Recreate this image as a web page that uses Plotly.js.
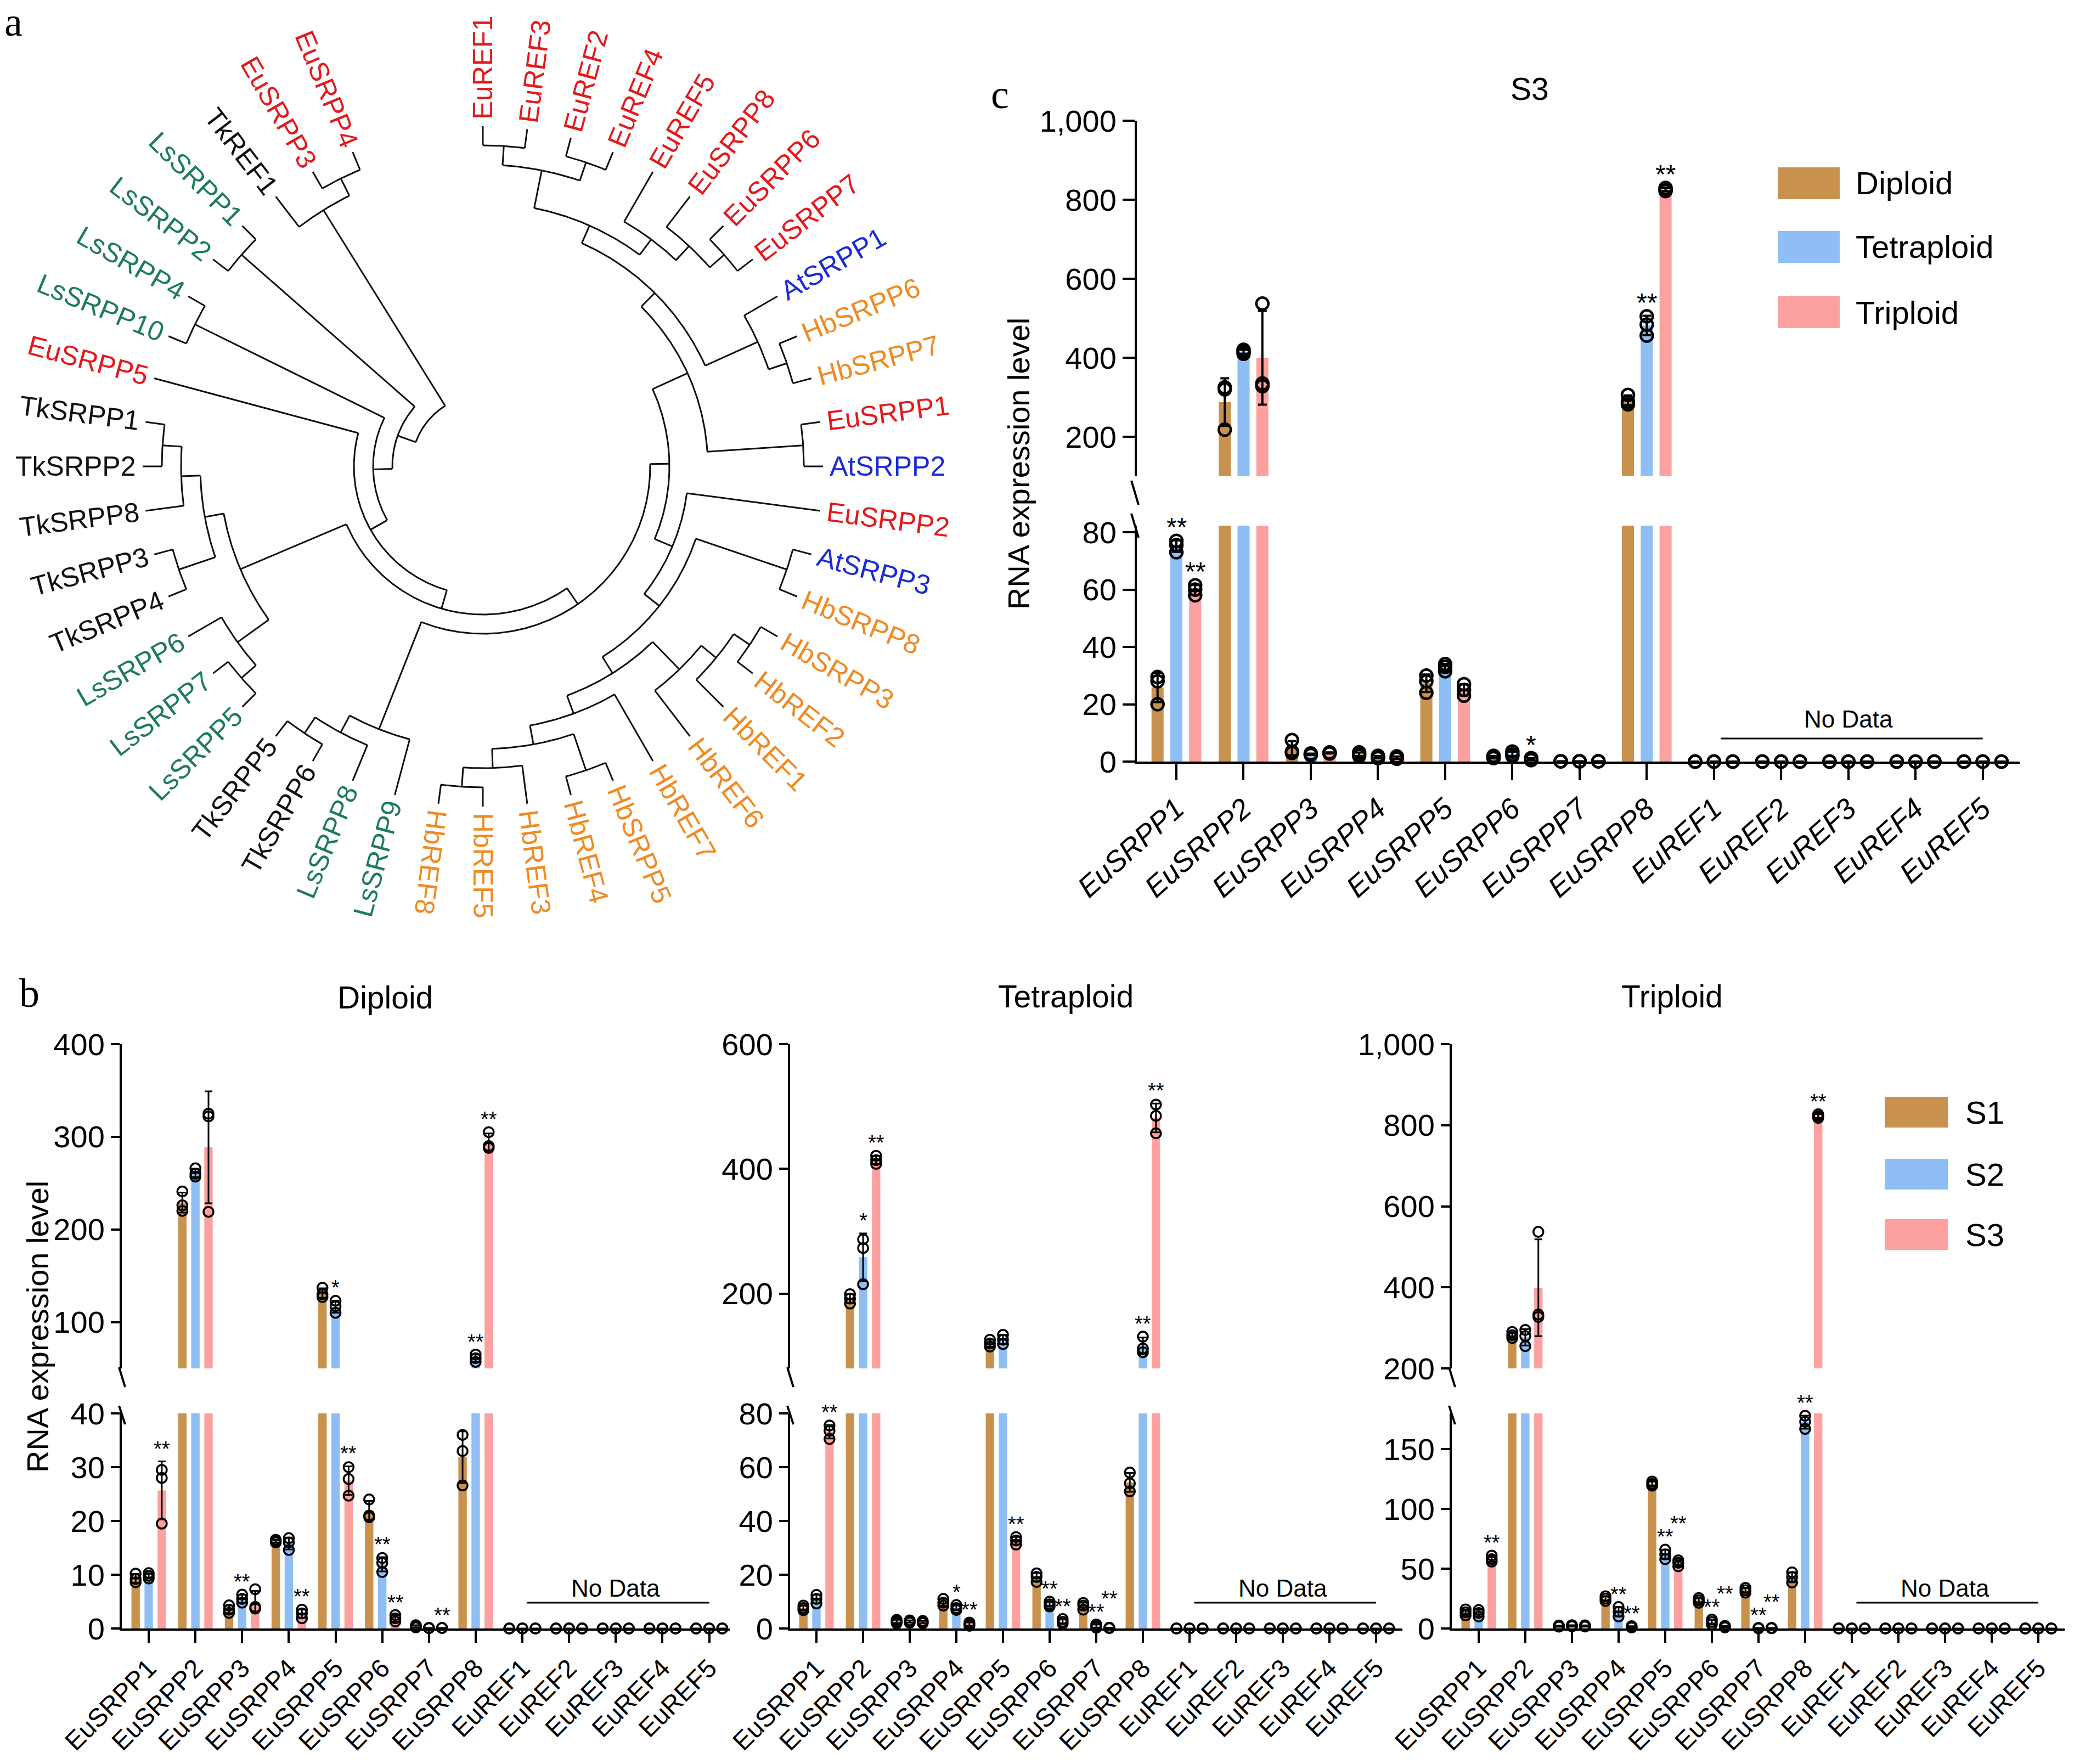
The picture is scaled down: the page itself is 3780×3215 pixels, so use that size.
<!DOCTYPE html>
<html><head><meta charset="utf-8">
<script src="https://cdn.plot.ly/plotly-3.0.1.min.js"></script>
<style>html,body{margin:0;padding:0;background:#fff}#plot{width:3780px;height:3215px}</style>
</head><body><div id="plot"></div>
<script>
const W = 3780, H = 3215;
const FONT = 'Liberation Sans, Arial, sans-serif';
const SERIF = 'Liberation Serif, Times New Roman, serif';

// ---------------- DATA ----------------
const categories = ['EuSRPP1','EuSRPP2','EuSRPP3','EuSRPP4','EuSRPP5','EuSRPP6','EuSRPP7','EuSRPP8','EuREF1','EuREF2','EuREF3','EuREF4','EuREF5'];
const seriesB = ['S1','S2','S3'];
const seriesC = ['Diploid','Tetraploid','Triploid'];

// panel b, Diploid (three replicates per bar)
const dipS1 = [[10.2,9.2,8.6],[241,226,220],[4.3,3.5,2.9],[16.5,16.2,16.0],[137,130,127],[24,21,20.7],[0.6,0.4,0.2],[36,33,26.6],[0,0,0],[0,0,0],[0,0,0],[0,0,0],[0,0,0]];
const dipS2 = [[10.3,9.8,9.3],[266,260,257],[6.3,5.5,4.8],[16.8,16,14.6],[123,117,110],[13.1,12.2,10.5],[0.1,0.1,0.05],[65,61,57],[0,0,0],[0,0,0],[0,0,0],[0,0,0],[0,0,0]];
const dipS3 = [[29.5,28,19.5],[325,322,219],[7.3,4.0,3.7],[3.5,2.8,1.9],[30,27.8,24.7],[2.5,1.9,1.3],[0.1,0.1,0.1],[305,290,288],[0,0,0],[0,0,0],[0,0,0],[0,0,0],[0,0,0]];
const dipStarS1 = ['','','','','','','','','','','','',''];
const dipStarS2 = ['','','**','','*','**','','**','','','','',''];
const dipStarS3 = ['**','','','**','**','**','**','**','','','','',''];

// panel b, Tetraploid
const tetS1 = [[8.5,7.6,6.8],[199,192,184],[3.2,2.6,2.0],[11,9.6,8.5],[126,120,115],[20.5,19.2,17.3],[9.5,8.5,7.0],[58,54,51],[0,0,0],[0,0,0],[0,0,0],[0,0,0],[0,0,0]];
const tetS2 = [[12.5,11,9.3],[287,273,215],[3.0,2.6,2.2],[8.7,7.6,6.9],[134,126,119],[10,9,8.2],[1.5,0.8,0.3],[131,112,106],[0,0,0],[0,0,0],[0,0,0],[0,0,0],[0,0,0]];
const tetS3 = [[75.5,73.5,70.5],[421,414,408],[2.8,2.4,2.0],[2.2,1.5,1.0],[34,32.7,31.2],[3.5,2.5,1.8],[0.3,0.2,0.1],[503,485,457],[0,0,0],[0,0,0],[0,0,0],[0,0,0],[0,0,0]];
const tetStarS1 = ['','','','','','','','','','','','',''];
const tetStarS2 = ['','*','','*','','**','**','**','','','','',''];
const tetStarS3 = ['**','**','','**','**','**','**','**','','','','',''];

// panel b, Triploid
const triS1 = [[16,13.5,11],[290,282,275],[2.5,2,1.5],[27,25,23],[123,121,119.5],[25.5,23.5,21.5],[34,32,30],[47,43,38.5],[0,0,0],[0,0,0],[0,0,0],[0,0,0],[0,0,0]];
const triS2 = [[15.5,13,10],[295,280,255],[2.8,2.2,1.8],[18,14,10],[66,62,58],[7.5,5.5,3.5],[0.5,0.3,0.1],[178,173,167],[0,0,0],[0,0,0],[0,0,0],[0,0,0],[0,0,0]];
const triS3 = [[61,58,56],[537,333,327],[2.6,2.1,1.6],[2,1.2,0.8],[57,55,52],[2.2,1.4,0.9],[0.5,0.3,0.2],[827,822,818],[0,0,0],[0,0,0],[0,0,0],[0,0,0],[0,0,0]];
const triStarS1 = ['','','','','','','','','','','','',''];
const triStarS2 = ['','','','**','**','**','**','**','','','','',''];
const triStarS3 = ['**','','','**','**','**','**','**','','','','',''];

// panel c, S3
const cDip = [[29.5,28,20],[325,320,218],[7.5,3.5,3.0],[3.2,2.4,2.0],[30,28,24],[2.0,1.5,1.2],[0.1,0.1,0.1],[306,289,282],[0,0,0],[0,0,0],[0,0,0],[0,0,0],[0,0,0]];
const cTet = [[77,75.5,73],[420,415,410],[2.8,2.5,2.3],[2.0,1.5,1.2],[34,33,31.5],[3.5,2.5,2.0],[0.1,0.1,0.1],[505,484,456],[0,0,0],[0,0,0],[0,0,0],[0,0,0],[0,0,0]];
const cTri = [[61.5,60,58],[537,335,328],[3.2,2.8,3.0],[1.8,1.2,1.0],[27,25,23],[1.2,0.8,0.5],[0.1,0.1,0.1],[830,825,822],[0,0,0],[0,0,0],[0,0,0],[0,0,0],[0,0,0]];
const cStarDip = ['','','','','','','','','','','','',''];
const cStarTet = ['**','','','','','','','**','','','','',''];
const cStarTri = ['**','','','','','*','','**','','','','',''];

// panel a, tree topology (Newick pieces)
const cladeEu = "(((EuREF1,EuREF3),(EuREF2,EuREF4)),(EuREF5,(EuSRPP8,(EuSRPP6,EuSRPP7))))";
const cladeAtHb = "(AtSRPP1,(HbSRPP6,HbSRPP7))";
const cladeHb = "((((HbSRPP3,HbREF2),HbREF1),HbREF6),(HbREF7,((HbSRPP5,HbREF4),(HbREF3,(HbREF5,HbREF8)))))";
const cladeMid = "(EuSRPP2,((AtSRPP3,HbSRPP8)," + cladeHb + "))";
const cladeRight = "(((" + cladeEu + "," + cladeAtHb + "),(EuSRPP1,AtSRPP2))," + cladeMid + ")";
const cladeB = "(LsSRPP9,(LsSRPP8,(TkSRPP6,TkSRPP5)))";
const cladeT = "(((LsSRPP5,LsSRPP7),LsSRPP6),((TkSRPP4,TkSRPP3),(TkSRPP8,(TkSRPP2,TkSRPP1))))";
const nodeQ = "(" + cladeRight + "," + cladeB + ")";
const nodeP = "(" + nodeQ + "," + cladeT + ")";
const nodeN = "(" + nodeP + ",EuSRPP5)";
const nodeN2 = "(" + nodeN + ",(LsSRPP10,LsSRPP4))";
const nodeN3 = "(" + nodeN2 + ",(LsSRPP2,LsSRPP1))";
const treeNewick = "(" + nodeN3 + ",(TkREF1,(EuSRPP3,EuSRPP4)))";
const speciesColors = {Eu:'#E3191C', Ls:'#1E7B5C', Tk:'#111111', At:'#1A2BD6', Hb:'#EF8A24'};

// ---------------- HELPERS ----------------
const X = p => p / W;
const Y = p => 1 - p / H;
const axName = id => id[0] + 'axis' + id.slice(1);
const mean = a => a.reduce((s, v) => s + v, 0) / a.length;
const sd = a => { const m = mean(a); return Math.sqrt(a.reduce((s, v) => s + (v - m) * (v - m), 0) / (a.length - 1)); };

const barColors = ['#C8924E', '#8EBEF4', '#FCA0A0'];
const offsets = [-0.28, 0, 0.28];
const barWidth = 0.18;

const data = [], annotations = [], shapes = [];
const layout = {
  width: W, height: H, margin: {l: 0, r: 0, t: 0, b: 0},
  paper_bgcolor: '#fff', plot_bgcolor: 'rgba(0,0,0,0)', showlegend: false,
  barmode: 'overlay', font: {family: FONT, color: '#000'},
  annotations: annotations, shapes: shapes
};

function addChart(c) {
  const [xa, yl, yu] = c.ax;
  layout[axName(xa)] = {
    domain: [X(c.xpx[0]), X(c.xpx[1])], range: c.xr, anchor: yl,
    tickmode: 'array', tickvals: categories.map((_, i) => i),
    ticktext: categories.map(t => c.italic ? '<i>' + t + '</i>' : t),
    tickangle: c.tickangle, ticks: 'outside', ticklen: c.xticklen, tickwidth: 4, tickcolor: '#000',
    showline: true, linewidth: 4, linecolor: '#000', showgrid: false, zeroline: false,
    tickfont: {family: FONT, size: c.xfont, color: '#000'}, fixedrange: true
  };
  const yBase = {
    anchor: xa, ticks: 'outside', ticklen: c.yticklen, tickwidth: 4, tickcolor: '#000',
    showline: true, linewidth: 4, linecolor: '#000', showgrid: false, zeroline: false,
    tickfont: {family: FONT, size: c.yfont, color: '#000'}, fixedrange: true,
    separatethousands: true, tickmode: 'array'
  };
  layout[axName(yl)] = Object.assign({}, yBase, {domain: [Y(c.lpx[1]), Y(c.lpx[0])], range: c.lr, tickvals: c.ltick});
  layout[axName(yu)] = Object.assign({}, yBase, {domain: [Y(c.upx[1]), Y(c.upx[0])], range: c.ur, tickvals: c.utick});

  // pixel position of a value (for star stacking)
  const toPx = v => v > c.lr[1]
    ? c.upx[1] - (v - c.ur[0]) / (c.ur[1] - c.ur[0]) * (c.upx[1] - c.upx[0])
    : c.lpx[1] - (v - c.lr[0]) / (c.lr[1] - c.lr[0]) * (c.lpx[1] - c.lpx[0]);
  const lastStar = {};

  c.series.forEach((ser, s) => {
    const xs = categories.map((_, i) => i + offsets[s]);
    const m = ser.map(mean);
    const e = ser.map(a => { const v = sd(a); return v > 0 ? v : null; });
    [yl, yu].forEach(ya => data.push({
      type: 'bar', x: xs, y: m, width: barWidth, xaxis: xa, yaxis: ya,
      marker: {color: barColors[s], line: {width: 0}},
      error_y: {type: 'data', array: e, symmetric: true, visible: true, color: '#000', thickness: c.ebThick, width: c.ebWidth},
      hoverinfo: 'skip'
    }));
    const lo = {x: [], y: []}, up = {x: [], y: []};
    ser.forEach((reps, i) => reps.forEach(v => {
      if (v <= c.lr[1]) { lo.x.push(xs[i]); lo.y.push(v); }
      if (v >= c.ur[0]) { up.x.push(xs[i]); up.y.push(v); }
    }));
    [[lo, yl], [up, yu]].forEach(([p, ya]) => data.push({
      type: 'scatter', mode: 'markers', x: p.x, y: p.y, xaxis: xa, yaxis: ya, cliponaxis: false,
      marker: {symbol: 'circle-open', size: c.ms, color: '#000', line: {width: c.mlw}}, hoverinfo: 'skip'
    }));
    c.stars[s].forEach((t, i) => {
      if (!t) return;
      const base = Math.max(Math.max(...ser[i]), m[i] + (e[i] || 0));
      const ya = base > c.lr[1] ? yu : yl;
      let shift = c.starShift;
      const py = toPx(base) - shift;
      if (lastStar[i] !== undefined && Math.abs(lastStar[i] - py) < c.starGap) {
        shift += c.starGap - (lastStar[i] - py);
      }
      lastStar[i] = toPx(base) - shift;
      annotations.push({xref: xa, yref: ya, x: xs[i], y: base, text: t, showarrow: false,
        yanchor: 'bottom', yshift: shift, font: {family: FONT, size: c.starSize, color: '#000'}});
    });
  });

  // axis break marks
  const ax0 = c.xpx[0];
  shapes.push({type: 'line', xref: 'paper', yref: 'paper', x0: X(ax0 - c.brk[0]), y0: Y(c.upx[1] + c.brk[1]), x1: X(ax0 + c.brk[2]), y1: Y(c.upx[1] + c.brk[3]), line: {color: '#000', width: 4}});
  shapes.push({type: 'line', xref: 'paper', yref: 'paper', x0: X(ax0 - c.brk[0]), y0: Y(c.lpx[0] + c.brk[4]), x1: X(ax0 + c.brk[2]), y1: Y(c.lpx[0] + c.brk[5]), line: {color: '#000', width: 4}});

  // No Data
  shapes.push({type: 'line', xref: xa, yref: 'paper', x0: 8.1, x1: 12.0, y0: Y(c.lpx[1] - c.nd[0]), y1: Y(c.lpx[1] - c.nd[0]), line: {color: '#000', width: 3}});
  annotations.push({xref: xa, yref: 'paper', x: 10.0, y: Y(c.lpx[1] - c.nd[1]), text: 'No Data', showarrow: false,
    xanchor: 'center', yanchor: 'middle', font: {family: FONT, size: c.ndFont, color: '#000'}});

  // title
  annotations.push({xref: 'paper', yref: 'paper', x: X(c.titlePx[0]), y: Y(c.titlePx[1]), text: c.title, showarrow: false,
    xanchor: 'center', yanchor: 'middle', font: {family: FONT, size: 57, color: '#000'}});
}

const bCommon = {italic: false, tickangle: -45, xticklen: 22, yticklen: 16, xfont: 47, yfont: 56,
  ms: 18, mlw: 3.5, ebThick: 3, ebWidth: 7, starSize: 38, starShift: 0, starGap: 24, ndFont: 44, nd: [47, 74],
  brk: [5, -2, 6, 34, -14, 20], upx: [1903, 2494], lpx: [2576, 2968]};

addChart(Object.assign({}, bCommon, {ax: ['x', 'y', 'y2'], xpx: [222, 1330], xr: [-0.576, 12.44],
  ur: [50, 400], utick: [100, 200, 300, 400], lr: [0, 40], ltick: [0, 10, 20, 30, 40],
  series: [dipS1, dipS2, dipS3], stars: [dipStarS1, dipStarS2, dipStarS3], title: 'Diploid', titlePx: [702, 1818]}));
addChart(Object.assign({}, bCommon, {ax: ['x2', 'y3', 'y4'], xpx: [1440, 2556], xr: [-0.565, 12.565],
  ur: [80, 600], utick: [200, 400, 600], lr: [0, 80], ltick: [0, 20, 40, 60, 80],
  series: [tetS1, tetS2, tetS3], stars: [tetStarS1, tetStarS2, tetStarS3], title: 'Tetraploid', titlePx: [1942, 1816]}));
addChart(Object.assign({}, bCommon, {ax: ['x3', 'y5', 'y6'], xpx: [2646, 3763], xr: [-0.576, 12.565],
  ur: [200, 1000], utick: [200, 400, 600, 800, 1000], lr: [0, 180], ltick: [0, 50, 100, 150],
  series: [triS1, triS2, triS3], stars: [triStarS1, triStarS2, triStarS3], title: 'Triploid', titlePx: [3047, 1816]}));
addChart({ax: ['x4', 'y7', 'y8'], italic: true, tickangle: -42, xticklen: 30, yticklen: 22, xfont: 53, yfont: 56,
  ms: 22, mlw: 4.5, ebThick: 4, ebWidth: 8, starSize: 48, starShift: -4, starGap: 30, ndFont: 44, nd: [42, 77],
  brk: [10, 8, 3, 52, -22, 22],
  xpx: [2072, 3681], xr: [-0.588, 12.55], upx: [220, 868], ur: [100, 1000], utick: [200, 400, 600, 800, 1000],
  lpx: [958, 1388], lr: [0, 82.3], ltick: [0, 20, 40, 60, 80],
  series: [cDip, cTet, cTri], stars: [cStarDip, cStarTet, cStarTri], title: 'S3', titlePx: [2788, 162]});

// y axis titles
[[68, 2418], [1856, 845]].forEach(p => annotations.push({xref: 'paper', yref: 'paper', x: X(p[0]), y: Y(p[1]),
  text: 'RNA expression level', textangle: -90, showarrow: false, xanchor: 'center', yanchor: 'middle',
  font: {family: FONT, size: 56, color: '#000'}}));

// legends
function addLegend(names, x0, x1, rows, half, tx) {
  names.forEach((n, k) => {
    shapes.push({type: 'rect', xref: 'paper', yref: 'paper', x0: X(x0), x1: X(x1), y0: Y(rows[k] + half), y1: Y(rows[k] - half),
      fillcolor: barColors[k], line: {width: 0}});
    annotations.push({xref: 'paper', yref: 'paper', x: X(tx), y: Y(rows[k]), text: n, showarrow: false,
      xanchor: 'left', yanchor: 'middle', font: {family: FONT, size: 58, color: '#000'}});
  });
}
addLegend(seriesC, 3240, 3353, [334, 450, 569], 29, 3380);
addLegend(seriesB, 3435, 3550, [2027, 2140, 2250], 28, 3580);

// panel letters
[['a', 24, 40], ['b', 53, 1810], ['c', 1822, 172]].forEach(p => annotations.push({xref: 'paper', yref: 'paper',
  x: X(p[1]), y: Y(p[2]), text: p[0], showarrow: false, xanchor: 'center', yanchor: 'middle',
  font: {family: SERIF, size: 74, color: '#000'}}));

// ---------------- TREE ----------------
function parseNewick(s) {
  let i = 0;
  function node() {
    if (s[i] === '(') {
      i++;
      const ch = [node()];
      while (s[i] === ',') { i++; ch.push(node()); }
      i++;
      return {children: ch};
    }
    let name = '';
    while (i < s.length && !',();'.includes(s[i])) name += s[i++];
    return {name: name};
  }
  return node();
}
const tree = parseNewick(treeNewick);
const ANG0 = 90, STEP = 7.5, RTIP = 620, RSTEP = 35, RLABEL = 632;
const leaves = [];
(function walk(n) {
  if (!n.children) { n.idx = leaves.length; leaves.push(n); n.h = 0; n.ang = ANG0 - STEP * n.idx; n.r = RTIP; return; }
  n.children.forEach(walk);
  n.h = 1 + Math.max(...n.children.map(c => c.h));
  n.ang = (n.children[0].ang + n.children[n.children.length - 1].ang) / 2;
  n.r = RTIP - RSTEP * n.h;
})(tree);

const tx = [], ty = [];
const rad = d => d * Math.PI / 180;
(function draw(n) {
  if (!n.children) return;
  const a1 = n.children[0].ang, a2 = n.children[n.children.length - 1].ang;
  const steps = Math.max(2, Math.ceil(Math.abs(a2 - a1) / 0.5));
  for (let k = 0; k <= steps; k++) {
    const a = rad(a1 + (a2 - a1) * k / steps);
    tx.push(n.r * Math.cos(a)); ty.push(n.r * Math.sin(a));
  }
  tx.push(null); ty.push(null);
  n.children.forEach(c => {
    const a = rad(c.ang);
    tx.push(n.r * Math.cos(a), c.r * Math.cos(a), null);
    ty.push(n.r * Math.sin(a), c.r * Math.sin(a), null);
    draw(c);
  });
})(tree);
data.push({type: 'scatter', mode: 'lines', x: tx, y: ty, xaxis: 'x5', yaxis: 'y9',
  line: {color: '#111', width: 3}, hoverinfo: 'skip', cliponaxis: false});

layout.xaxis5 = {domain: [0, X(1800)], range: [-880, 920], anchor: 'y9', visible: false, fixedrange: true};
layout.yaxis9 = {domain: [Y(1750), 1], range: [-900, 850], anchor: 'x5', visible: false, fixedrange: true};

const LABEL_SIZE = 50;
const ctx = document.createElement('canvas').getContext('2d');
ctx.font = LABEL_SIZE + "px 'Liberation Sans'";
leaves.forEach(l => {
  const w = ctx.measureText(l.name).width;
  const a = rad(l.ang);
  const rc = RLABEL + w / 2;
  let an = ((l.ang + 180) % 360 + 360) % 360 - 180;
  let ta = (an >= -100 && an <= 100) ? -an : 180 - an;
  ta = ((ta + 180) % 360 + 360) % 360 - 180;
  annotations.push({xref: 'x5', yref: 'y9', x: rc * Math.cos(a), y: rc * Math.sin(a), text: l.name,
    textangle: ta, showarrow: false, xanchor: 'center', yanchor: 'middle', borderpad: 0,
    font: {family: FONT, size: LABEL_SIZE, color: speciesColors[l.name.slice(0, 2)] || '#111'}});
});

Plotly.newPlot('plot', data, layout, {staticPlot: true, displayModeBar: false});
</script>
</body></html>
